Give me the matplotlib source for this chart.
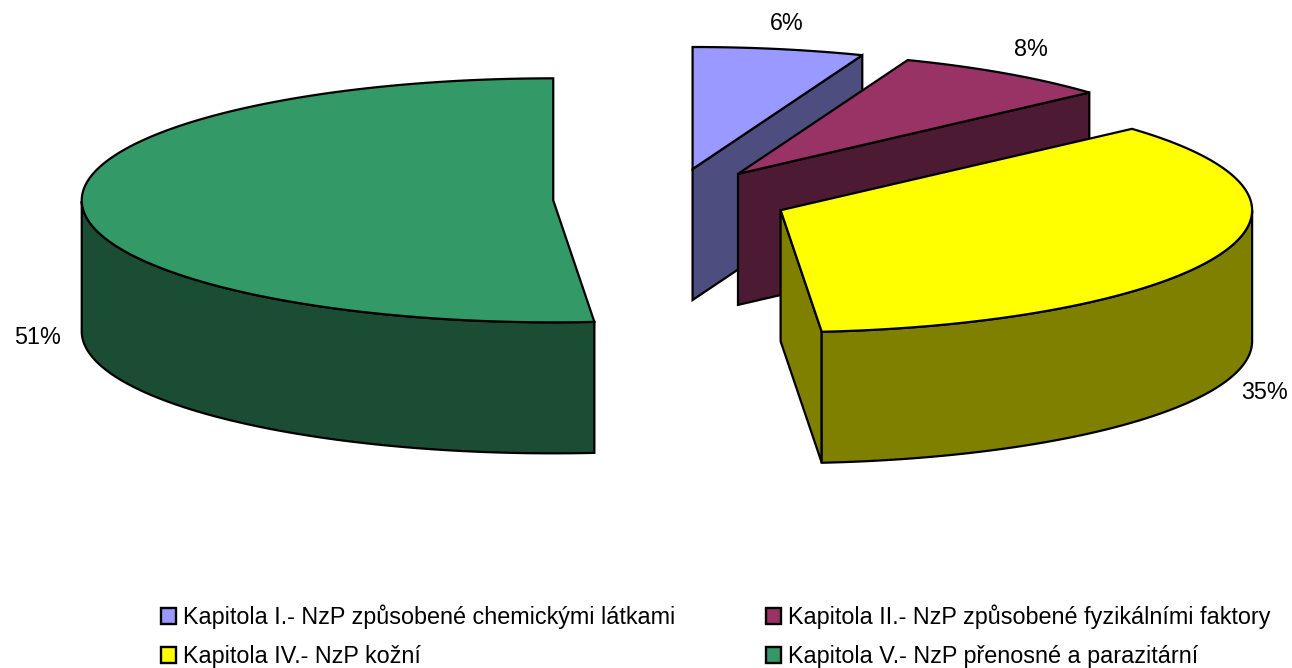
#!/usr/bin/python3
# Rozlozeny 3D kolacovy graf - NzP podle kapitol
import numpy as np
import matplotlib as mplt
mplt.use("Agg")
import matplotlib.pyplot as plt
from matplotlib.patches import Patch, Polygon

plt.rcParams['font.family'] = ['Liberation Sans', 'DejaVu Sans']

# data
categories = ['Kapitola I.- NzP způsobené chemickými látkami',
              'Kapitola II.- NzP způsobené fyzikálními faktory',
              'Kapitola IV.- NzP kožní',
              'Kapitola V.- NzP přenosné a parazitární']
values = [5.86, 7.52, 35.23, 51.39]
top_colors = ['#9999FF', '#993366', '#FFFF00', '#339966']
side_colors = ['#4D4D80', '#4D1A33', '#808000', '#1A4D33']

# vzhled
W, H = 1292, 668
CX, CY = 671, 199       # stred kolace v pixelech
RX, RY = 471.5, 122     # poloosy elipsy v pixelech
DEPTH = 131 / RY        # vyska valce
EXPLODE = 0.25
LW = 1.6
label_px = [(787, 24), (1031, 49), (1265, 393), (38, 338)]

fig = plt.figure(figsize=(W / 100, H / 100), dpi=100)
ax = fig.add_axes([0, 0, 1, 1])
# jednotkovy kruh: osy jsou roztazene tak, aby vysla elipsa
ax.set_xlim((0 - CX) / RX, (W - CX) / RX)
ax.set_ylim((CY - H) / RY, CY / RY)
ax.axis('off')


def px(x, y):
	return ((x - CX) / RX, (CY - y) / RY)


def face(points, color):
	ax.add_patch(Polygon(points, closed=True, facecolor=color, edgecolor='black',
	                     linewidth=LW, joinstyle='miter'))


# vysec po vyseci od 12 hodin po smeru hodinovych rucicek
start = 90.0
for val, top, side in zip(values, top_colors, side_colors):
	end = start - val * 3.6
	mid = np.radians((start + end) / 2)
	ox, oy = EXPLODE * np.cos(mid), EXPLODE * np.sin(mid)
	t1, t2 = np.radians(start), np.radians(end)
	apex = np.array([ox, oy])
	down = np.array([0, -DEPTH])

	# rezne steny, jen ty natocene k divakovi
	if np.cos(t1) < -1e-9:
		p = apex + [np.cos(t1), np.sin(t1)]
		face([apex, p, p + down, apex + down], side)
	if np.cos(t2) > 1e-9:
		p = apex + [np.cos(t2), np.sin(t2)]
		face([apex, p, p + down, apex + down], side)

	# vnejsi stena - jen predni cast oblouku
	t = np.linspace(t1, t2, 400)
	t = t[np.sin(t) <= 0]
	if len(t) > 1:
		arc = np.column_stack([ox + np.cos(t), oy + np.sin(t)])
		face(np.vstack([arc, arc[::-1] + down]), side)

	# horni plocha
	t = np.linspace(t1, t2, 400)
	arc = np.column_stack([ox + np.cos(t), oy + np.sin(t)])
	face(np.vstack([apex, arc]), top)
	start = end

# popisky procent
for val, (x, y) in zip(values, label_px):
	lx, ly = px(x, y)
	ax.text(lx, ly, '%.0f%%' % val, fontsize=16.8, ha='center', va='center', color='black')

# legenda - sloupce se plni shora dolu
order = [0, 2, 1, 3]
handles = [Patch(facecolor=top_colors[i], edgecolor='black', linewidth=1.7) for i in order]
fig.legend(handles, [categories[i] for i in order], ncol=2, frameon=False,
           loc='lower left', bbox_to_anchor=(161 / W, 1 - 668 / H),
           fontsize=16.8, handlelength=0.65, handleheight=0.65, handletextpad=0.28,
           columnspacing=3.9, labelspacing=0.68, borderpad=0, borderaxespad=0)

fig.savefig('out.png', dpi=100)
plt.close('all')
